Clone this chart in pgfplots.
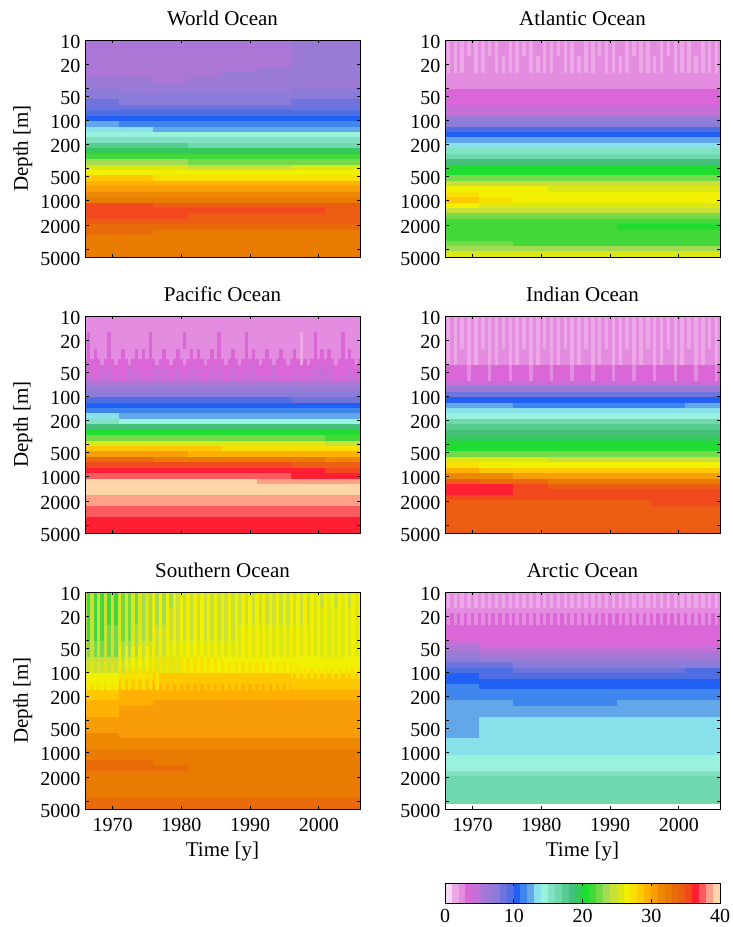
\documentclass[border=0pt]{standalone}
\usepackage{fontspec}
\setmainfont{Liberation Serif}
\usepackage{pgfplots}
\usepackage{pgfplotstable}
\pgfplotsset{compat=1.18}
\pgfdeclareplotmark{cell}{\pgfpathrectangle{\pgfpoint{-17.5pt}{-3pt}}{\pgfpoint{35pt}{6pt}}\pgfusepathqfill}
\pgfdeclareplotmark{st}{\pgfpathrectangle{\pgfpoint{-1.75pt}{-8.2pt}}{\pgfpoint{3.5pt}{16.4pt}}\pgfusepathqfill}
\pgfdeclareplotmark{bar}{\pgfpathrectangle{\pgfpoint{-3.6pt}{-10pt}}{\pgfpoint{7.2pt}{20pt}}\pgfusepathqfill}
\newcommand\fs{\fontsize{20}{24}\selectfont}
\newcommand\fst{\fontsize{21}{25}\selectfont}
\pgfplotsset{colormap={ocean}{HTML=(F5D8F2) HTML=(ECA8E6) HTML=(E48CDF) HTML=(DA66D8) HTML=(C670D7) HTML=(AB76D6) HTML=(9A7AD7) HTML=(8A7CD8) HTML=(6E74DC) HTML=(4F6EE4)
 HTML=(2060F5) HTML=(3F85EE) HTML=(62A8E8) HTML=(88E0EA) HTML=(98F2DE) HTML=(80E2C2) HTML=(70D8AE) HTML=(58CB90) HTML=(44C07A) HTML=(35C85A)
 HTML=(1FDC30) HTML=(42D83A) HTML=(74DA48) HTML=(A2DC52) HTML=(C8E038) HTML=(DCE815) HTML=(F0F000) HTML=(F8E000) HTML=(FFC800) HTML=(FFB000)
 HTML=(F89C08) HTML=(EE8800) HTML=(E97C00) HTML=(E86A08) HTML=(EC5C12) HTML=(F2481E) HTML=(FF1E32) HTML=(FF5A60) HTML=(FFA088) HTML=(FFD6A8)}}
\pgfplotsset{
 heat/.style={scatter,only marks,mark=cell,scatter/use mapped color={draw=none,fill=mapped color},point meta=explicit},
 stripe/.style={heat,mark=st},
 occommon/.style={scale only axis,tick align=inside,tick pos=both,major tick length=3.5pt,
  point meta min=0,point meta max=39,
  tick style={black,line width=.7pt},axis line style={black,line width=.9pt},
  tick label style={font=\fs},label style={font=\fst},title style={font=\fst,yshift=5pt},
  xticklabel style={yshift=-6pt}},
 ocpanel/.style={occommon,width=275pt,height=217pt,xmin=1966,xmax=2006,y dir=reverse,ymin=10,ymax=5000,
  xtick={1970,1980,1990,2000},xticklabels={},yminorticks=false,
  ytick={10,20,50,100,200,500,1000,2000,5000},yticklabels={10,20,50,100,200,500,1000,2000,5000},
  extra y ticks={40,400,4000},extra y tick labels={},
  yticklabel style={xshift=-1pt,yshift=-1.5pt}},
 octl/.style={xticklabels={1970,1980,1990,2000},xlabel={Time [y]},xlabel style={yshift=-3pt}},
 ocdl/.style={ylabel={Depth [m]},ylabel style={at={(axis description cs:0,0.5)},anchor=south,yshift=49pt}}
}
\newcommand\heatmap[1]{%
 \addplot[heat] table[x expr=1968.5,y=d,meta=a]{#1};
 \addplot[heat] table[x expr=1973.5,y=d,meta=b]{#1};
 \addplot[heat] table[x expr=1978.5,y=d,meta=c]{#1};
 \addplot[heat] table[x expr=1983.5,y=d,meta=e]{#1};
 \addplot[heat] table[x expr=1988.5,y=d,meta=f]{#1};
 \addplot[heat] table[x expr=1993.5,y=d,meta=g]{#1};
 \addplot[heat] table[x expr=1998.5,y=d,meta=h]{#1};
 \addplot[heat] table[x expr=2003.5,y=d,meta=i]{#1};
}
\newcommand\stripes[3]{\addplot[stripe] table[x=t,y expr=#3,meta=#2]{#1};}
\newcommand\ocframe[2]{\begin{semilogyaxis}[ocpanel,yticklabels={},at={(#1,#2)},anchor=south west]\end{semilogyaxis}}
\pgfplotstableread{
d a b c e f g h i
10.8 5 5 5 5 5 5 6 6
12.6 5 5 5 5 5 5 6 6
14.8 5 5 5 5 5 5 6 6
17.2 5 5 5 5 5 5 6 6
20.1 5 5 5 5 5 5 6 6
23.5 5 5 5 5 5 6 6 6
27.5 5 5 5 5 6 6 6 6
32.1 6 6 5 6 6 6 6 6
37.5 6 6 6 6 6 6 6 6
43.8 7 6 6 6 6 6 7 7
51.2 7 7 7 7 7 7 7 7
59.8 8 7 7 7 7 7 8 8
69.8 8 8 8 8 8 8 8 8
81.5 9 9 9 9 9 9 9 9
95.2 10 10 10 10 10 10 10 10
111 12 11 11 11 11 11 11 11
130 13 13 12 12 12 12 12 12
152 14 14 14 14 14 14 14 14
177 15 15 15 15 15 15 15 15
207 17 17 17 16 16 16 16 16
242 19 19 19 19 19 19 19 19
283 21 21 21 21 21 21 21 21
330 23 23 23 22 22 22 22 22
386 25 25 25 24 24 24 25 25
450 26 26 26 26 26 26 26 26
526 28 28 27 27 27 27 27 27
615 29 29 29 29 29 29 29 29
718 30 30 30 30 30 30 30 30
839 31 31 31 31 31 31 31 31
980 32 32 32 32 32 32 32 32
1145 35 35 34 34 34 34 34 34
1337 35 35 35 35 35 35 35 34
1562 35 35 35 34 34 34 34 34
1825 34 34 34 34 34 34 34 34
2132 33 33 33 33 33 33 33 33
2490 33 33 32 32 32 32 32 32
2909 32 32 32 32 32 32 32 32
3398 32 32 32 32 32 32 32 32
3970 32 32 32 32 32 32 32 32
4638 32 32 32 32 32 32 32 32
}\worldT
\pgfplotstableread{
d a b c e f g h i
10.8 2 2 2 2 2 2 2 2
12.6 2 2 2 2 2 2 2 2
14.8 2 2 2 2 2 2 2 2
17.2 2 2 2 2 2 2 2 2
20.1 2 2 2 2 2 2 2 2
23.5 2 2 2 2 2 2 2 2
27.5 2 2 2 2 2 2 2 2
32.1 2 2 2 2 2 2 2 2
37.5 2 2 2 2 2 2 2 2
43.8 3 3 3 3 3 3 3 3
51.2 3 3 3 3 3 3 3 3
59.8 3 3 3 3 3 3 3 3
69.8 4 4 4 4 4 4 4 4
81.5 4 4 4 4 4 4 4 4
95.2 6 6 6 6 6 6 6 6
111 7 7 7 7 7 7 7 7
130 9 9 9 9 9 9 9 9
152 10 10 10 10 10 10 10 10
177 12 12 12 12 12 12 12 12
207 13 13 13 13 13 13 13 13
242 15 15 15 15 15 15 15 15
283 16 16 16 16 16 16 16 16
330 18 18 18 18 18 18 18 18
386 20 20 20 20 20 20 20 20
450 20 20 20 20 20 20 20 20
526 22 22 22 22 22 22 22 22
615 24 24 24 24 24 24 24 24
718 26 26 26 25 25 25 25 25
839 27 26 26 26 26 26 26 26
980 28 27 26 26 26 26 26 26
1145 26 25 25 25 25 25 25 25
1337 24 24 24 24 24 24 24 24
1562 22 22 22 22 22 22 22 22
1825 21 21 21 21 21 21 21 21
2132 21 21 21 21 21 20 20 20
2490 21 21 21 21 21 21 21 21
2909 21 21 21 21 21 21 21 21
3398 22 22 21 21 21 21 21 21
3970 23 23 23 23 23 23 23 23
4638 25 25 25 25 25 25 25 25
}\atlanticT
\pgfplotstableread{
d a b c e f g h i
10.8 2 2 2 2 2 2 2 2
12.6 2 2 2 2 2 2 2 2
14.8 2 2 2 2 2 2 2 2
17.2 2 2 2 2 2 2 2 2
20.1 2 2 2 2 2 2 2 2
23.5 2 2 2 2 2 2 2 2
27.5 2 2 2 2 2 2 2 2
32.1 2 2 2 2 2 2 2 2
37.5 3 3 3 3 3 3 3 3
43.8 3 3 3 3 3 3 3 3
51.2 3 3 3 3 3 3 3 3
59.8 4 4 4 4 4 4 4 4
69.8 5 5 5 5 5 5 5 5
81.5 6 6 6 6 6 6 6 6
95.2 7 7 7 7 7 7 7 7
111 9 9 9 9 9 9 8 8
130 10 10 10 10 10 10 10 10
152 11 11 11 11 11 11 11 11
177 13 12 12 12 12 12 12 12
207 15 14 14 14 14 14 14 14
242 18 18 18 18 18 18 18 18
283 20 20 20 20 20 20 20 20
330 22 22 22 22 22 22 22 21
386 25 25 25 25 25 25 25 24
450 28 28 28 28 27 27 27 27
526 30 30 30 29 29 29 29 29
615 33 33 32 32 32 32 32 31
718 35 35 35 35 35 35 34 34
839 36 36 36 36 36 36 36 35
980 37 37 37 37 37 37 36 36
1145 39 39 39 39 39 38 38 38
1337 39 39 39 39 39 39 39 39
1562 39 39 39 39 39 39 39 39
1825 38 38 38 38 38 38 38 38
2132 38 38 38 38 38 38 38 38
2490 37 37 37 37 37 37 37 37
2909 37 37 37 37 37 37 37 37
3398 36 36 36 36 36 36 36 36
3970 36 36 36 36 36 36 36 36
4638 36 36 36 36 36 36 36 36
}\pacificT
\pgfplotstableread{
d a b c e f g h i
10.8 2 2 2 2 2 2 2 2
12.6 2 2 2 2 2 2 2 2
14.8 2 2 2 2 2 2 2 2
17.2 2 2 2 2 2 2 2 2
20.1 2 2 2 2 2 2 2 2
23.5 2 2 2 2 2 2 2 2
27.5 2 2 2 2 2 2 2 2
32.1 2 2 2 2 2 2 2 2
37.5 2 2 2 2 2 2 2 2
43.8 3 3 3 3 3 3 3 3
51.2 3 3 3 3 3 3 3 3
59.8 3 3 3 3 3 3 3 3
69.8 4 4 4 4 4 4 4 4
81.5 6 6 6 6 6 6 6 6
95.2 8 8 8 8 8 8 8 8
111 10 10 10 10 10 10 10 10
130 12 12 11 11 11 11 11 12
152 13 13 13 13 13 13 13 13
177 14 14 14 14 14 14 14 14
207 16 16 16 16 16 16 16 16
242 17 17 17 17 17 17 17 17
283 18 18 18 18 18 18 18 18
330 19 19 19 19 19 19 19 19
386 20 20 20 20 20 20 20 20
450 20 20 20 20 20 20 20 20
526 22 22 22 22 22 22 22 22
615 25 25 25 24 24 24 24 24
718 27 26 26 26 26 26 26 26
839 29 28 28 28 28 28 28 28
980 31 31 30 30 30 30 30 30
1145 34 33 33 32 32 32 32 32
1337 36 36 35 34 34 34 34 34
1562 36 36 35 35 35 35 35 35
1825 35 35 35 35 35 35 35 35
2132 34 34 34 34 34 34 35 35
2490 34 34 34 34 34 34 34 34
2909 34 34 34 34 34 34 34 34
3398 34 34 34 34 34 34 34 34
3970 34 34 34 34 34 34 34 34
4638 34 34 34 34 34 34 34 34
}\indianT
\pgfplotstableread{
d a b c e f g h i
10.8 24 25 26 26 26 26 26 26
12.6 24 25 26 26 26 26 26 26
14.8 24 25 26 26 26 26 26 26
17.2 24 25 26 26 26 26 26 26
20.1 24 25 26 26 26 26 26 26
23.5 24 25 26 26 26 26 26 26
27.5 24 25 26 26 26 26 26 26
32.1 24 25 26 26 26 26 26 26
37.5 24 25 26 26 26 26 26 26
43.8 24 25 26 26 26 26 26 26
51.2 24 26 26 26 26 26 26 26
59.8 24 26 26 26 26 26 26 26
69.8 24 26 27 27 26 26 26 26
81.5 25 26 27 27 27 27 26 26
95.2 25 27 27 27 27 27 27 27
111 26 27 28 28 28 28 27 27
130 26 28 28 28 28 28 28 28
152 27 28 29 29 29 29 28 28
177 28 29 29 29 29 29 29 29
207 28 29 29 29 29 29 29 29
242 29 29 30 30 30 30 30 30
283 29 30 30 30 30 30 30 30
330 29 30 30 30 30 30 30 30
386 30 30 30 30 30 30 30 30
450 30 30 30 30 30 30 30 30
526 30 30 30 30 30 30 30 30
615 31 30 30 30 30 30 30 30
718 31 31 31 31 31 31 31 31
839 31 31 31 31 31 31 31 31
980 32 32 32 32 32 32 32 32
1145 32 32 32 32 32 32 32 32
1337 33 33 32 32 32 32 32 32
1562 33 33 33 32 32 32 32 32
1825 32 32 32 32 32 32 32 32
2132 32 32 32 32 32 32 32 32
2490 32 32 32 32 32 32 32 32
2909 32 32 32 32 32 32 32 32
3398 32 32 32 32 32 32 32 32
3970 33 33 33 33 33 33 33 33
4638 33 33 33 33 33 33 33 33
}\southernT
\pgfplotstableread{
d a b c e f g h i
10.8 2 2 2 2 2 2 2 2
12.6 2 2 2 2 2 2 2 2
14.8 2 2 2 2 2 2 2 2
17.2 2 2 2 2 2 2 2 2
20.1 3 3 3 3 3 3 3 3
23.5 3 3 3 3 3 3 3 3
27.5 3 3 3 3 3 3 3 3
32.1 3 3 3 3 3 3 3 3
37.5 3 3 3 3 3 3 3 3
43.8 4 3 3 3 3 3 3 3
51.2 5 4 4 4 4 4 4 4
59.8 6 5 5 5 5 5 5 5
69.8 7 6 6 6 6 6 6 6
81.5 8 8 7 7 7 7 7 7
95.2 9 9 8 8 8 8 8 9
111 10 9 9 9 9 9 9 9
130 10 10 10 10 10 10 10 10
152 11 10 10 10 10 10 10 10
177 11 11 11 11 11 11 11 11
207 11 11 11 11 11 11 11 11
242 12 12 11 11 11 12 12 12
283 12 12 12 12 12 12 12 12
330 12 12 12 12 12 12 12 12
386 12 13 13 13 13 13 13 13
450 12 13 13 13 13 13 13 13
526 12 13 13 13 13 13 13 13
615 12 13 13 13 13 13 13 13
718 13 13 13 13 13 13 13 13
839 13 13 13 13 13 13 13 13
980 13 13 13 13 13 13 13 13
1145 14 14 14 14 14 14 14 14
1337 14 14 14 14 14 14 14 14
1562 14 14 14 14 14 14 14 14
1825 15 15 15 15 15 15 15 15
2132 16 16 16 16 16 16 16 16
2490 16 16 16 16 16 16 16 16
2909 16 16 16 16 16 16 16 16
3398 16 16 16 16 16 16 16 16
3970 16 16 16 16 16 16 16 16
}\arcticT
\pgfplotstableread{
t s0 s1
1966.5 1 1
1967.5 1 1
1968.5 1 1
1969.5 1 2
1970.5 1 1
1971.5 1 1
1972.5 1 2
1973.5 1 1
1974.5 2 1
1975.5 1 1
1976.5 1 1
1977.5 1 2
1978.5 1 1
1979.5 2 1
1980.5 1 1
1981.5 1 1
1982.5 1 2
1983.5 1 1
1984.5 1 1
1985.5 2 1
1986.5 1 1
1987.5 1 1
1988.5 1 2
1989.5 1 1
1990.5 1 1
1991.5 2 1
1992.5 1 1
1993.5 1 2
1994.5 1 1
1995.5 1 1
1996.5 2 1
1997.5 1 1
1998.5 1 2
1999.5 1 1
2000.5 1 1
2001.5 1 1
2002.5 2 1
2003.5 1 1
2004.5 1 1
2005.5 1 1
}\atlanticS
\pgfplotstableread{
t s1 s2 s3
1966.5 3 3 4
1967.5 2 3 3
1968.5 2 2 4
1969.5 3 3 4
1970.5 2 2 3
1971.5 2 3 3
1972.5 2 2 4
1973.5 2 3 4
1974.5 2 3 3
1975.5 3 3 3
1976.5 2 2 4
1977.5 2 3 4
1978.5 2 2 3
1979.5 2 3 4
1980.5 3 2 3
1981.5 2 3 4
1982.5 2 3 4
1983.5 2 2 3
1984.5 2 3 4
1985.5 3 3 4
1986.5 2 2 3
1987.5 2 3 4
1988.5 2 2 3
1989.5 3 3 4
1990.5 2 3 4
1991.5 2 2 3
1992.5 2 3 3
1993.5 2 2 4
1994.5 2 3 3
1995.5 2 2 3
1996.5 2 3 4
1997.5 1 1 3
1998.5 2 2 3
1999.5 3 3 4
2000.5 2 3 4
2001.5 2 3 4
2002.5 2 2 3
2003.5 3 3 3
2004.5 2 3 4
2005.5 2 2 3
}\pacificS
\pgfplotstableread{
t s0 s1 s2 s3
1966.5 1 1 1 3
1967.5 1 1 1 3
1968.5 1 1 2 3
1969.5 1 1 1 2
1970.5 1 1 1 3
1971.5 1 1 2 3
1972.5 1 1 1 2
1973.5 1 1 1 3
1974.5 1 1 2 3
1975.5 1 1 1 2
1976.5 1 1 1 3
1977.5 1 1 2 3
1978.5 1 1 1 2
1979.5 1 1 1 3
1980.5 1 1 2 3
1981.5 1 1 1 2
1982.5 1 1 1 3
1983.5 1 1 2 3
1984.5 1 1 1 2
1985.5 1 1 1 3
1986.5 1 1 2 3
1987.5 1 1 1 2
1988.5 1 1 1 3
1989.5 1 1 2 3
1990.5 1 1 1 2
1991.5 1 1 1 3
1992.5 1 1 2 3
1993.5 1 1 1 2
1994.5 1 1 1 3
1995.5 1 1 2 3
1996.5 1 1 1 2
1997.5 1 1 1 3
1998.5 1 1 2 3
1999.5 1 1 1 2
2000.5 1 1 1 3
2001.5 1 1 2 3
2002.5 1 1 1 2
2003.5 1 1 1 3
2004.5 1 1 2 3
2005.5 1 1 1 2
}\indianS
\pgfplotstableread{
t s0 s1 s2 s3 s4 s5
1966.5 21 21 21 22 24 26
1967.5 21 21 21 22 24 26
1968.5 21 21 21 22 24 26
1969.5 21 21 22 22 24 26
1970.5 21 21 22 22 24 26
1971.5 22 22 22 23 24 27
1972.5 22 22 22 23 25 27
1973.5 22 22 23 23 25 27
1974.5 23 23 23 24 25 27
1975.5 23 23 23 24 25 27
1976.5 23 23 24 24 25 27
1977.5 23 23 24 24 25 28
1978.5 23 24 24 25 25 28
1979.5 24 24 24 25 25 28
1980.5 24 24 24 25 26 28
1981.5 24 24 24 25 26 28
1982.5 24 24 24 25 26 28
1983.5 24 24 24 25 26 28
1984.5 24 24 24 25 26 28
1985.5 24 24 24 25 26 28
1986.5 24 24 24 25 26 28
1987.5 24 24 24 25 26 28
1988.5 24 24 25 25 26 28
1989.5 24 24 25 25 26 28
1990.5 24 24 25 25 26 28
1991.5 24 24 25 25 26 28
1992.5 24 24 25 25 26 28
1993.5 24 24 25 25 26 28
1994.5 24 24 25 25 26 28
1995.5 24 24 25 25 26 28
1996.5 24 24 25 25 26 28
1997.5 24 24 25 25 26 28
1998.5 24 24 25 25 26 28
1999.5 25 25 25 25 26 28
2000.5 24 25 25 25 26 28
2001.5 25 25 25 25 26 28
2002.5 24 25 25 25 26 28
2003.5 25 25 25 25 26 28
2004.5 24 25 25 25 26 28
2005.5 25 25 25 25 26 28
}\southernS
\pgfplotstableread{
t s0 s1
1966.5 1 2
1967.5 1 2
1968.5 1 2
1969.5 1 2
1970.5 1 2
1971.5 1 2
1972.5 1 2
1973.5 1 2
1974.5 1 2
1975.5 1 2
1976.5 1 2
1977.5 1 2
1978.5 1 2
1979.5 1 2
1980.5 1 2
1981.5 1 2
1982.5 1 2
1983.5 1 2
1984.5 1 2
1985.5 1 2
1986.5 1 2
1987.5 1 2
1988.5 1 2
1989.5 1 2
1990.5 1 2
1991.5 1 2
1992.5 1 2
1993.5 1 2
1994.5 1 2
1995.5 1 2
1996.5 1 2
1997.5 1 2
1998.5 1 2
1999.5 1 2
2000.5 1 2
2001.5 1 2
2002.5 1 2
2003.5 1 2
2004.5 1 2
2005.5 1 2
}\arcticS
\begin{document}
\begin{tikzpicture}
\path[use as bounding box] (0pt,0pt) rectangle (733pt,927pt);
\begin{semilogyaxis}[ocpanel,ocdl,at={(85pt,670pt)},anchor=south west,title={World Ocean}]
\heatmap{\worldT}
\end{semilogyaxis}
\ocframe{85pt}{670pt}
\begin{semilogyaxis}[ocpanel,at={(445pt,670pt)},anchor=south west,title={Atlantic Ocean}]
\heatmap{\atlanticT}
\stripes{\atlanticS}{s0}{12.6}
\stripes{\atlanticS}{s1}{20.1}
\end{semilogyaxis}
\ocframe{445pt}{670pt}
\begin{semilogyaxis}[ocpanel,ocdl,at={(85pt,394pt)},anchor=south west,title={Pacific Ocean}]
\heatmap{\pacificT}
\stripes{\pacificS}{s1}{20.1}
\stripes{\pacificS}{s2}{32.1}
\stripes{\pacificS}{s3}{51.2}
\end{semilogyaxis}
\ocframe{85pt}{394pt}
\begin{semilogyaxis}[ocpanel,at={(445pt,394pt)},anchor=south west,title={Indian Ocean}]
\heatmap{\indianT}
\stripes{\indianS}{s0}{12.6}
\stripes{\indianS}{s1}{20.1}
\stripes{\indianS}{s2}{32.1}
\stripes{\indianS}{s3}{51.2}
\end{semilogyaxis}
\ocframe{445pt}{394pt}
\begin{semilogyaxis}[ocpanel,ocdl,octl,at={(85pt,118pt)},anchor=south west,title={Southern Ocean}]
\heatmap{\southernT}
\stripes{\southernS}{s0}{12.6}
\stripes{\southernS}{s1}{20.1}
\stripes{\southernS}{s2}{32.1}
\stripes{\southernS}{s3}{51.2}
\stripes{\southernS}{s4}{81.5}
\stripes{\southernS}{s5}{130}
\end{semilogyaxis}
\ocframe{85pt}{118pt}
\begin{semilogyaxis}[ocpanel,octl,at={(445pt,118pt)},anchor=south west,title={Arctic Ocean}]
\heatmap{\arcticT}
\stripes{\arcticS}{s0}{12.6}
\stripes{\arcticS}{s1}{20.1}
\end{semilogyaxis}
\ocframe{445pt}{118pt}
\begin{axis}[occommon,width=275pt,height=20pt,at={(445pt,24pt)},anchor=south west,xmin=0,xmax=40,ymin=0,ymax=1,
 xtick={0,10,20,30,40},xticklabels={0,10,20,30,40},ytick=\empty,xticklabel style={yshift=3pt}]
\addplot[heat,mark=bar] table[x=x,y=y,meta=v]{
x y v
0.5 0.5 0
1.5 0.5 1
2.5 0.5 2
3.5 0.5 3
4.5 0.5 4
5.5 0.5 5
6.5 0.5 6
7.5 0.5 7
8.5 0.5 8
9.5 0.5 9
10.5 0.5 10
11.5 0.5 11
12.5 0.5 12
13.5 0.5 13
14.5 0.5 14
15.5 0.5 15
16.5 0.5 16
17.5 0.5 17
18.5 0.5 18
19.5 0.5 19
20.5 0.5 20
21.5 0.5 21
22.5 0.5 22
23.5 0.5 23
24.5 0.5 24
25.5 0.5 25
26.5 0.5 26
27.5 0.5 27
28.5 0.5 28
29.5 0.5 29
30.5 0.5 30
31.5 0.5 31
32.5 0.5 32
33.5 0.5 33
34.5 0.5 34
35.5 0.5 35
36.5 0.5 36
37.5 0.5 37
38.5 0.5 38
39.5 0.5 39
};
\end{axis}
\begin{axis}[occommon,width=275pt,height=20pt,at={(445pt,24pt)},anchor=south west,xmin=0,xmax=40,ymin=0,ymax=1,
 xtick={0,10,20,30,40},xticklabels={},ytick=\empty]
\end{axis}
\end{tikzpicture}
\end{document}
